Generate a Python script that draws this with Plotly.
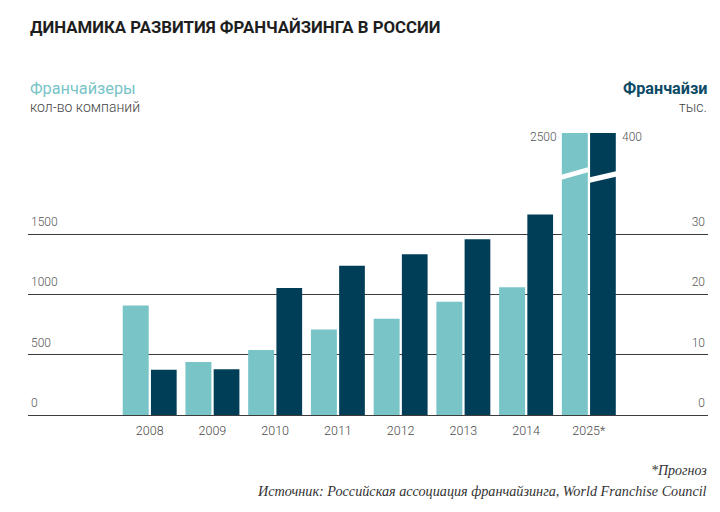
import plotly.graph_objects as go

years = ["2008", "2009", "2010", "2011", "2012", "2013", "2014", "2025*"]
franchisors = [910, 440, 540, 710, 800, 940, 1060, 2500]       # кол-во компаний
franchisees = [7.5, 7.6, 21.1, 24.8, 26.7, 29.2, 33.3, 400]    # тыс.

left_ticks = [0, 500, 1000, 1500]
left_tick_text = ["0", "500", "1000", "1500"]
right_ticks = [0, 10, 20, 30]
right_tick_text = ["0", "10", "20", "30"]

LIGHT = "#78c4c7"
DARK = "#003e58"
GRID = "#3c3c3c"
TXT = "#555555"

PXU = 0.1204            # pixels per franchisor unit
ymin_left = -1 / PXU
ymax_left = 2342
ymin_right, ymax_right = ymin_left / 50, ymax_left / 50

x = list(range(len(years)))

fig = go.Figure()
fig.add_trace(go.Bar(x=x, y=franchisors, width=0.414, offset=-0.43,
                     marker=dict(color=LIGHT, line=dict(width=0)), yaxis="y", name="Франчайзеры"))
fig.add_trace(go.Bar(x=x, y=franchisees, width=0.41, offset=0.02,
                     marker=dict(color=DARK, line=dict(width=0)), yaxis="y2", name="Франчайзи"))

# broken-bar slashes on the 2025* bars
i = len(years) - 1
def px2v(p):
    return (415 - p) / PXU
slashes = [
    (i - 0.45, i + 0.0, (175, 180), (167, 172)),
    (i + 0.0, i + 0.45, (177.5, 183), (171, 176.5)),
]
for x0, x1, (lt, lb), (rt, rb) in slashes:
    path = (f"M {x0},{px2v(lt)} L {x1},{px2v(rt)} L {x1},{px2v(rb)} L {x0},{px2v(lb)} Z")
    fig.add_shape(type="path", path=path, xref="x", yref="y",
                  fillcolor="white", line=dict(width=0), layer="above")

tickfont = dict(size=12, color=TXT, weight=300)
fig.update_layout(
    width=720, height=512,
    margin=dict(l=28, r=12, t=133, b=96),
    paper_bgcolor="white", plot_bgcolor="white",
    barmode="overlay", showlegend=False,
    font=dict(family="Roboto", color=TXT, size=12),
    xaxis=dict(range=[-1.94, 8.9], tickmode="array", tickvals=x, ticktext=years,
               showgrid=False, zeroline=False, showline=False, ticks="",
               tickfont=dict(size=12.5, color="#4a4a4a", weight=300), ticklabelstandoff=5),
    yaxis=dict(range=[ymin_left, ymax_left], tickmode="array", tickvals=left_ticks,
               ticktext=left_tick_text, showgrid=True, gridcolor=GRID, gridwidth=1.3,
               zeroline=True, zerolinecolor=GRID, zerolinewidth=1.3, showline=False, ticks="",
               ticklabelposition="inside top", ticklabelshift=-4, tickfont=tickfont),
    yaxis2=dict(range=[ymin_right, ymax_right], overlaying="y", side="right", tickmode="array",
                tickvals=right_ticks, ticktext=right_tick_text, showgrid=False, zeroline=False,
                showline=False, ticks="", ticklabelposition="inside top", ticklabelshift=-4,
                tickfont=tickfont),
)

anns = [
    ("<b>ДИНАМИКА РАЗВИТИЯ ФРАНЧАЙЗИНГА В РОССИИ</b>", 28, 27,
     dict(size=16.8, color="#1e1e1e", family="Roboto"), "left"),
    ("Франчайзеры", 28, 88, dict(size=16.3, color=LIGHT), "left"),
    ("кол-во компаний", 28, 107, dict(size=14, color="#444444", weight=300), "left"),
    ("<b>Франчайзи</b>", 709, 88, dict(size=16.2, color="#0d4a66"), "right"),
    ("тыс.", 709, 107, dict(size=14, color="#444444", weight=300), "right"),
    ("<i>*Прогноз</i>", 709, 470, dict(size=14, color="#333333", family="Liberation Serif"), "right"),
    ("<i>Источник: Российская ассоциация франчайзинга, World Franchise Council</i>", 709, 491,
     dict(size=14.2, color="#333333", family="Liberation Serif"), "right"),
]
H = 512 - 133 - 96
for text, ax, ay, font, xa in anns:
    fig.add_annotation(xref="paper", yref="paper", showarrow=False, yanchor="middle",
                       x=(ax - 28) / 680, y=(416 - ay) / H,
                       text=text, font=font, xanchor=xa)

# value labels for clipped 2025* bars
fig.add_annotation(x=i - 0.47, y=(416 - 137) / H, xref="x", yref="paper", text=str(franchisors[i]),
                   showarrow=False, xanchor="right", yanchor="middle", font=tickfont)
fig.add_annotation(x=i + 0.5, y=(416 - 137) / H, xref="x", yref="paper", text=str(franchisees[i]),
                   showarrow=False, xanchor="left", yanchor="middle", font=tickfont)

fig.write_html("out.html", config={"displayModeBar": False},
               post_script="document.body.style.margin='0';document.body.style.overflow='hidden';")
